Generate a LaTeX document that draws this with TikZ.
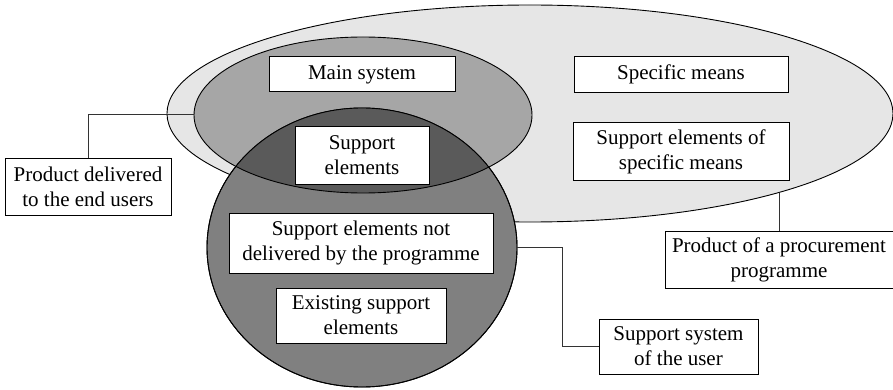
\documentclass[tikz,border=0pt]{standalone}
\usepackage{fontspec}
\setmainfont{Liberation Serif}
\usetikzlibrary{shapes.geometric, positioning}

\definecolor{lightfill}{HTML}{E6E6E6}
\definecolor{midfill}{HTML}{A6A6A6}
\definecolor{darkfill}{HTML}{808080}
\definecolor{overlapfill}{HTML}{5A5A5A}

\tikzset{
  element/.style={draw, fill=white, line width=1pt, align=center, inner sep=2pt,
    font=\fontsize{21}{25}\selectfont},
  area/.style={ellipse, draw, line width=0.9pt, inner sep=0pt},
  link/.style={draw=black!80, line width=1pt},
}

\begin{document}
\begin{tikzpicture}[x=1pt, y=-1pt]
\useasboundingbox (0,0) rectangle (893,390);

% the three sets
\node[area, fill=lightfill, minimum width=726pt, minimum height=217pt] (program) at (530,113.5) {};
\node[area, fill=midfill, minimum width=338pt, minimum height=156pt] (enduser) at (363,115) {};
\node[area, fill=darkfill, minimum width=310pt, minimum height=279pt] (usersys) at (362,247.5) {};
\begin{scope}
  \clip (usersys.center) ellipse [x radius=155pt, y radius=139.5pt];
  \fill[overlapfill] (enduser.center) ellipse [x radius=169pt, y radius=78pt];
  \draw[line width=0.9pt] (enduser.center) ellipse [x radius=169pt, y radius=78pt];
\end{scope}
\draw[line width=0.9pt] (usersys.center) ellipse [x radius=155pt, y radius=139.5pt];

% elements
\node[element, minimum width=186pt, minimum height=35pt] (mainsys) at (362,74.5) {Main system};
\node[element, minimum width=214pt, minimum height=36pt, right=118pt of mainsys] (specific) {Specific means};
\node[element, minimum width=216pt, minimum height=58pt, below=29pt of specific] (specsupport) {Support elements of\\specific means};
\node[element, minimum width=134pt, minimum height=57pt] (support) at (362,155.5) {Support\\elements};
\node[element, minimum width=264pt, minimum height=60pt] (notdelivered) at (361,243) {Support elements not\\delivered by the programme};
\node[element, minimum width=170pt, minimum height=55pt, below=14pt of notdelivered] (existing) {Existing support\\elements};

% labels
\node[element, minimum width=166pt, minimum height=56pt] (enduserlabel) at (88,187) {Product delivered\\to the end users};
\node[element, minimum width=228pt, minimum height=57pt] (proclabel) at (779,259.5) {Product of a procurement\\programme};
\node[element, minimum width=159pt, minimum height=55pt] (userlabel) at (678.5,346.5) {Support system\\of the user};

\coordinate (procend) at (779,192.5);
\draw[link] (enduserlabel.north) |- (enduser.west);
\draw[link] (proclabel.north) -- (procend);
\draw[link] (usersys.east) -- ++(45,0) |- (userlabel.west);
\end{tikzpicture}
\end{document}
